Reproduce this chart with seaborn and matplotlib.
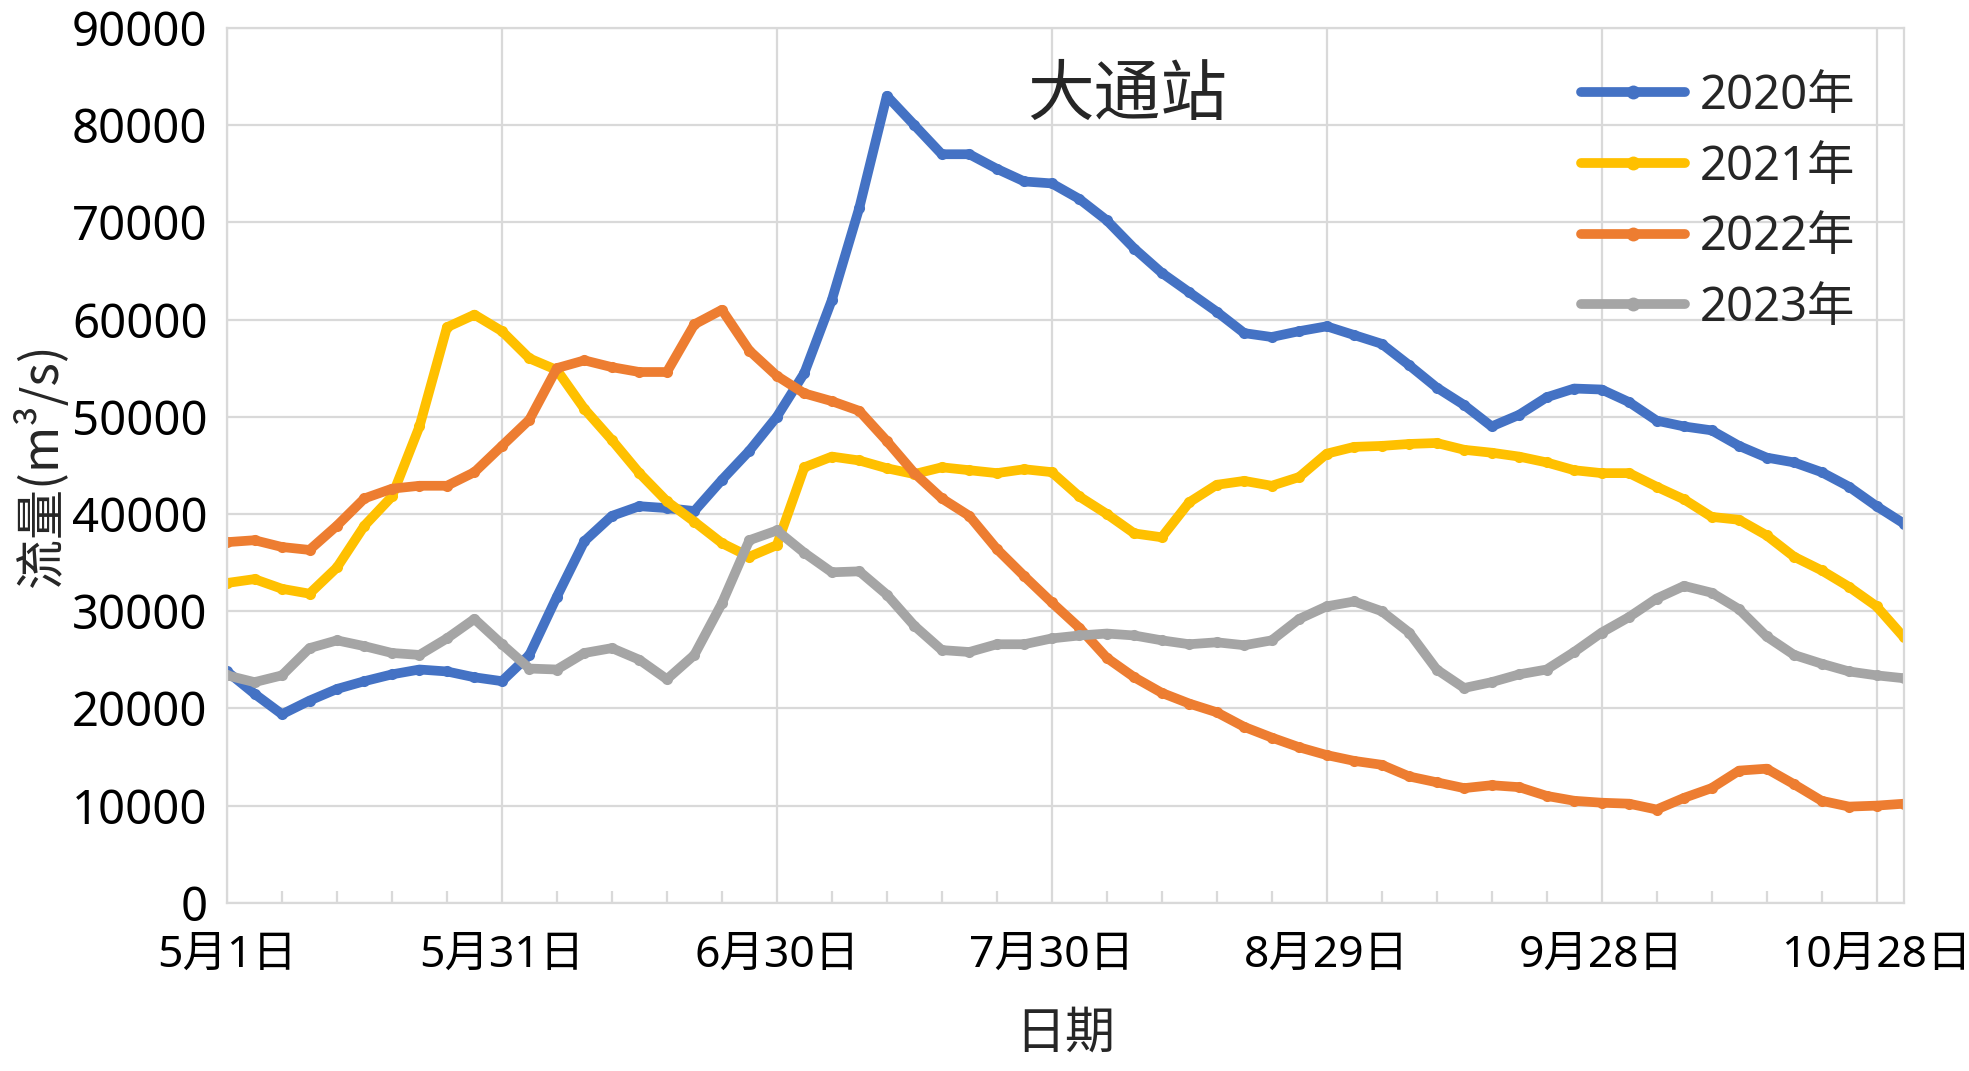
import numpy as np
import pandas as pd
import matplotlib
matplotlib.use('Agg')
import matplotlib.pyplot as plt
import seaborn as sns
from matplotlib.ticker import MultipleLocator

# Daily discharge at Datong station, read every 3 days from 5/1 to 10/31
days = list(range(0, 184, 3))

flow_2020 = [23.8, 21.5, 19.4, 20.8, 22.0, 22.8, 23.5, 24.0, 23.8, 23.2,
             22.8, 25.5, 31.5, 37.2, 39.8, 40.8, 40.6, 40.3, 43.5, 46.5,
             50.0, 54.5, 62.0, 71.5, 83.0, 80.0, 77.0, 77.0, 75.5, 74.2,
             74.0, 72.4, 70.2, 67.3, 64.8, 62.8, 60.8, 58.6, 58.2, 58.8,
             59.3, 58.4, 57.5, 55.3, 53.0, 51.2, 49.0, 50.2, 52.0, 52.9,
             52.8, 51.5, 49.6, 49.0, 48.6, 47.0, 45.8, 45.3, 44.3, 42.8,
             40.8, 39.0]
flow_2021 = [32.9, 33.3, 32.3, 31.8, 34.5, 38.8, 41.8, 49.0, 59.2, 60.5,
             58.8, 56.0, 54.8, 50.8, 47.6, 44.2, 41.3, 39.2, 37.0, 35.6,
             36.8, 44.8, 45.9, 45.5, 44.7, 44.1, 44.8, 44.5, 44.2, 44.6,
             44.3, 41.8, 40.0, 38.0, 37.6, 41.2, 43.0, 43.4, 42.9, 43.8,
             46.2, 46.9, 47.0, 47.2, 47.3, 46.6, 46.3, 45.9, 45.3, 44.5,
             44.2, 44.2, 42.8, 41.5, 39.7, 39.4, 37.8, 35.6, 34.2, 32.5,
             30.5, 27.3]
flow_2022 = [37.1, 37.3, 36.6, 36.3, 38.8, 41.6, 42.6, 42.9, 42.9, 44.3,
             47.0, 49.7, 55.0, 55.8, 55.1, 54.6, 54.6, 59.5, 61.0, 56.8,
             54.2, 52.4, 51.6, 50.6, 47.5, 44.2, 41.6, 39.8, 36.4, 33.6,
             30.9, 28.3, 25.2, 23.2, 21.6, 20.5, 19.6, 18.1, 17.0, 16.0,
             15.2, 14.6, 14.2, 13.0, 12.4, 11.8, 12.1, 11.9, 11.0, 10.5,
             10.3, 10.2, 9.6, 10.8, 11.8, 13.6, 13.8, 12.2, 10.5, 9.9,
             10.0, 10.2]
flow_2023 = [23.4, 22.7, 23.4, 26.2, 27.0, 26.4, 25.7, 25.5, 27.2, 29.2,
             26.6, 24.1, 24.0, 25.7, 26.2, 25.0, 23.0, 25.5, 30.8, 37.3,
             38.3, 36.0, 34.0, 34.1, 31.7, 28.5, 26.0, 25.8, 26.6, 26.6,
             27.2, 27.5, 27.7, 27.5, 27.0, 26.6, 26.8, 26.5, 27.0, 29.2,
             30.5, 31.0, 30.0, 27.8, 24.0, 22.1, 22.7, 23.5, 24.0, 25.8,
             27.8, 29.4, 31.3, 32.6, 31.9, 30.2, 27.4, 25.5, 24.6, 23.8,
             23.4, 23.1]

years = ['2020年', '2021年', '2022年', '2023年']
colors = ['#4472C4', '#FFC000', '#ED7D31', '#A5A5A5']

tick_days = [0, 30, 60, 90, 120, 150, 180]
tick_labels = ['5月1日', '5月31日', '6月30日', '7月30日', '8月29日', '9月28日', '10月28日']

# long-form table for seaborn (values in m3/s)
frames = []
for yr, vals in zip(years, [flow_2020, flow_2021, flow_2022, flow_2023]):
    frames.append(pd.DataFrame({'day': days, 'flow': np.array(vals) * 1000, 'year': yr}))
df = pd.concat(frames, ignore_index=True)

sns.set_style('white')
plt.rcParams['font.family'] = ['Noto Sans', 'Noto Sans CJK SC', 'DejaVu Sans']

fig = plt.figure(figsize=(19.69, 10.71), dpi=100)
ax = fig.add_axes([0.1153, 0.157, 0.8517, 0.817])

sns.lineplot(data=df, x='day', y='flow', hue='year', palette=colors,
             marker='o', markersize=8, markeredgewidth=0, linewidth=7,
             legend=False, ax=ax)

ax.set_xlim(0, 183)
ax.set_ylim(0, 90000)
ax.set_yticks(np.arange(0, 90001, 10000))
ax.set_yticklabels([str(v) for v in range(0, 90001, 10000)])
ax.set_xticks(tick_days)
ax.set_xticklabels(tick_labels)
ax.xaxis.set_minor_locator(MultipleLocator(6))

ax.grid(True, which='major', color='#D9D9D9', linewidth=1.6)
ax.set_axisbelow(True)
for s in ax.spines.values():
    s.set_color('#D9D9D9')
    s.set_linewidth(1.6)

ax.tick_params(axis='both', which='major', length=0, labelsize=34, colors='black')
ax.tick_params(axis='x', labelsize=32)
ax.tick_params(axis='y', pad=14)
ax.tick_params(axis='x', pad=22)
ax.tick_params(axis='x', which='minor', direction='in', length=9, width=1.6,
               color='#D9D9D9', bottom=True)

ax.set_xlabel('日期', fontsize=36, family=['Noto Sans CJK SC'], labelpad=22)
ax.set_ylabel('流量(m³/s)', fontsize=36, family=['Noto Sans CJK SC', 'Noto Sans'], labelpad=2)

ax.text(0.537, 0.922, '大通站', transform=ax.transAxes, fontsize=48,
        family=['Noto Sans CJK SC'], ha='center', va='center')

handles = [plt.Line2D([], [], color=c, linewidth=7, marker='o', markersize=10,
                      markeredgewidth=0) for c in colors]
ax.legend(handles, years, loc='upper right', bbox_to_anchor=(0.982, 0.97),
          frameon=False, fontsize=34, handlelength=2.2, handletextpad=0.3,
          labelspacing=0.5, borderaxespad=0)

fig.savefig('out.png', dpi=100, facecolor='white')
